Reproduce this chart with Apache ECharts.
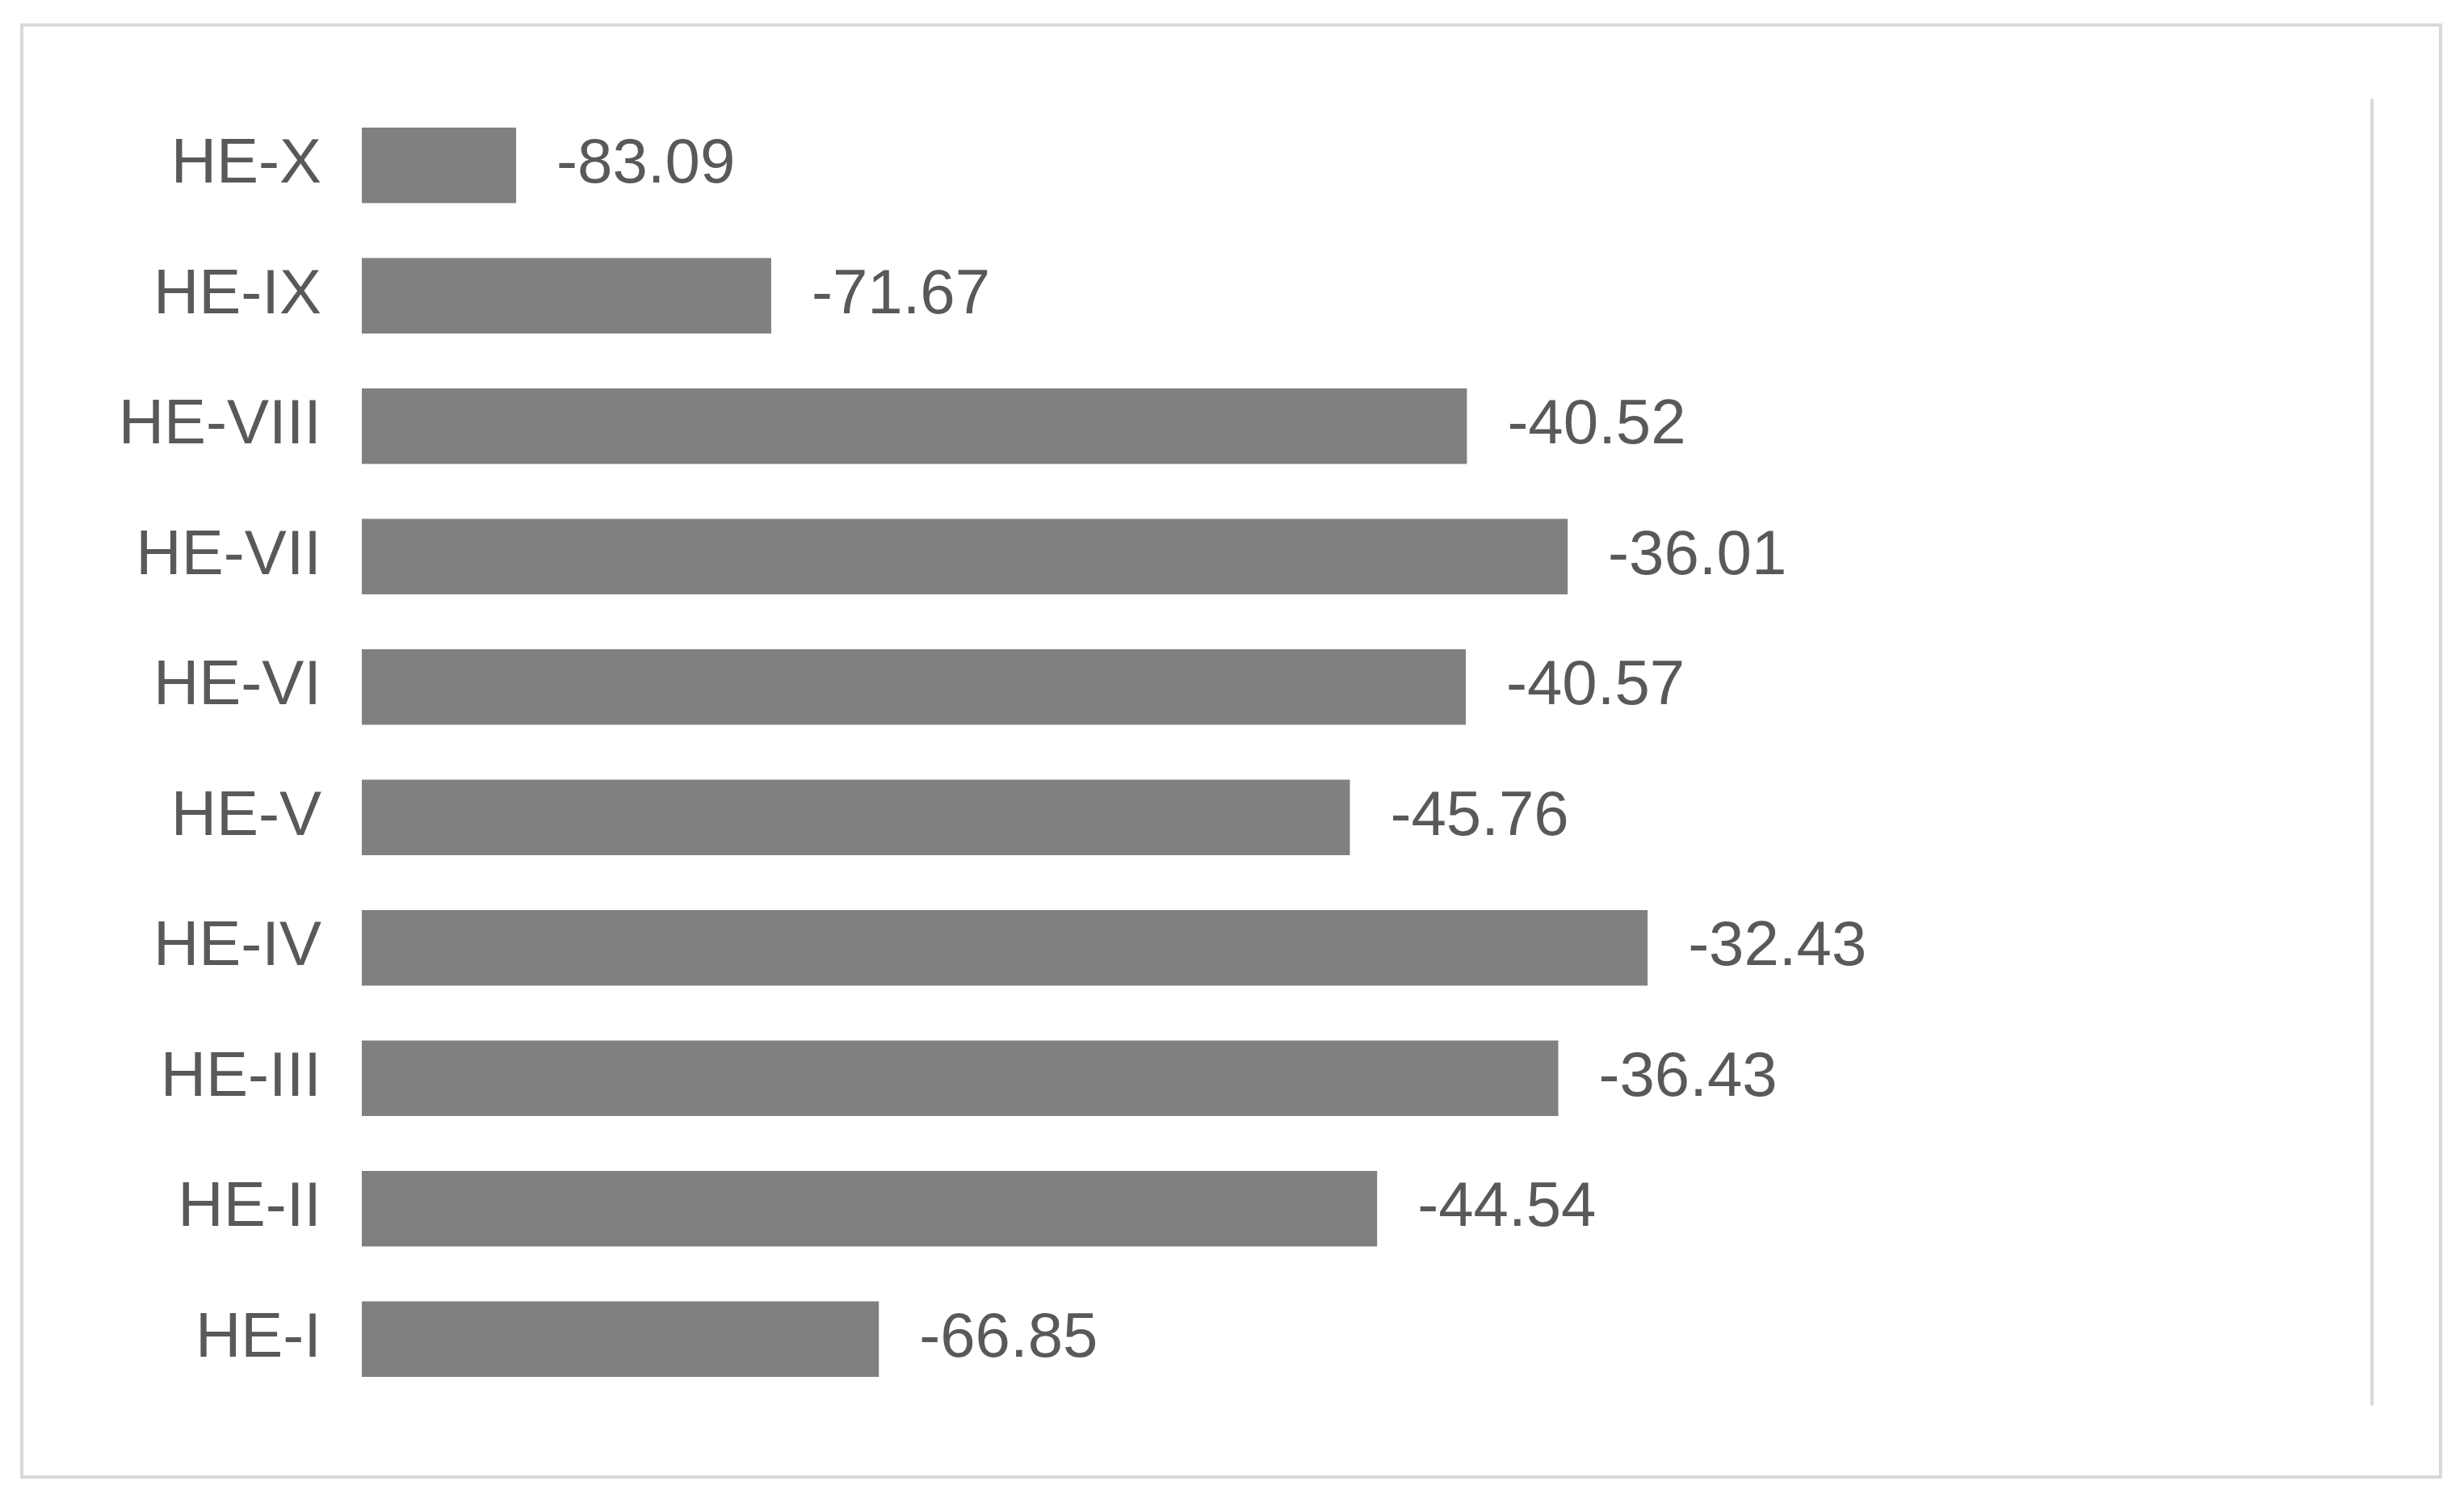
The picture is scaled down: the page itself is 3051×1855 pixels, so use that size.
<!DOCTYPE html>
<html>
<head>
<meta charset="utf-8">
<script src="https://cdn.jsdelivr.net/npm/echarts@6/dist/echarts.min.js"></script>
<style>
  html, body { margin: 0; padding: 0; background: #fff; }
  #chart { width: 3051px; height: 1855px; }
</style>
</head>
<body>
<div id="chart"></div>
<script>
(function () {
  // categories from bottom to top
  let categories = ['HE-I', 'HE-II', 'HE-III', 'HE-IV', 'HE-V', 'HE-VI', 'HE-VII', 'HE-VIII', 'HE-IX', 'HE-X'];
  let values = [-66.85, -44.54, -36.43, -32.43, -45.76, -40.57, -36.01, -40.52, -71.67, -83.09];
  let axisMin = -90;

  let base = values.map(function () { return axisMin; });
  let length = values.map(function (v) { return v - axisMin; });

  let myChart = echarts.init(document.getElementById('chart'));
  let option = {
    graphic: [{
      type: 'rect',
      shape: { x: 27, y: 31, width: 2995, height: 1798 },
      style: { fill: 'none', stroke: '#d9d9d9', lineWidth: 4 }
    }],
    grid: { left: 448, right: 114, top: 124, bottom: 116 },
    xAxis: {
      type: 'value',
      min: axisMin,
      max: 0,
      show: false
    },
    yAxis: {
      type: 'category',
      data: categories,
      axisLine: { lineStyle: { color: '#d9d9d9', width: 4 } },
      axisTick: { show: false },
      axisLabel: {
        fontSize: 78,
        color: '#595959',
        fontFamily: 'Liberation Sans',
        margin: 50
      }
    },
    series: [
      {
        type: 'bar',
        stack: 'total',
        stackStrategy: 'all',
        data: base,
        itemStyle: { color: 'transparent' },
        silent: true
      },
      {
        type: 'bar',
        stack: 'total',
        stackStrategy: 'all',
        data: length,
        barWidth: '58%',
        itemStyle: { color: '#808080' },
        label: {
          show: true,
          position: 'right',
          distance: 50,
          fontSize: 78,
          color: '#595959',
          fontFamily: 'Liberation Sans',
          formatter: function (p) { return values[p.dataIndex].toFixed(2); }
        }
      }
    ]
  };
  myChart.setOption(option);
})();
</script>
</body>
</html>
